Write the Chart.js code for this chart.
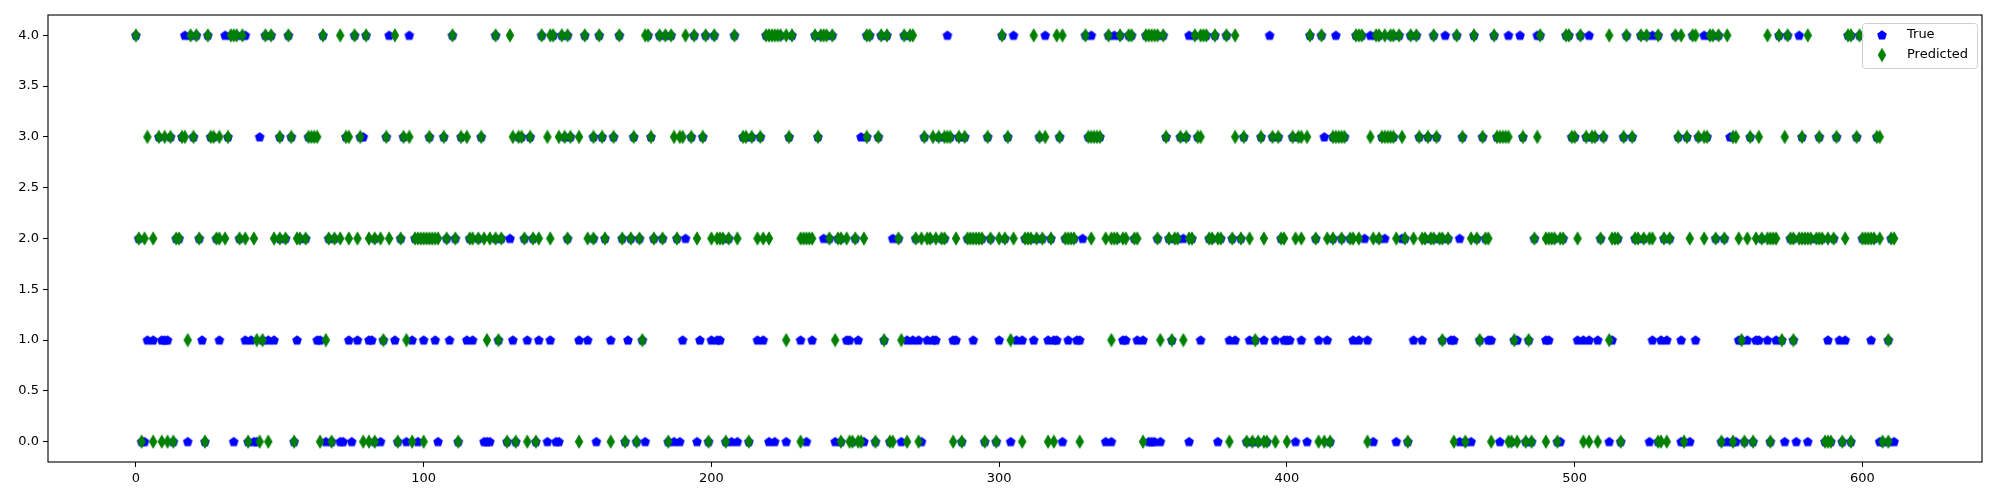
<html>
<head>
<style>
  body { margin: 0; background: #fff; }
</style>
</head>
<body>
<canvas id="myChart" width="2000" height="500"></canvas>
<script src="https://cdn.jsdelivr.net/npm/chart.js"></script>
<script>
// class labels on the y axis
const classes = [0, 1, 2, 3, 4];

// predicted class -> sample indices (green diamonds)
const pred0 = [2, 6, 9, 11, 13, 24, 39, 43, 46, 55, 64, 68, 79, 81, 83, 91, 96, 100, 112, 129, 132, 136, 139,
  154, 165, 170, 174, 185, 199, 205, 213, 231, 245, 248, 249, 251, 252, 257, 262, 263, 268, 272, 284, 287, 295, 299,
  308, 317, 319, 328, 350, 380, 386, 388, 390, 392, 393, 396, 400, 411, 413, 415, 428, 442, 458,
  462, 471, 477, 478, 480, 483, 485, 490, 494, 503, 505, 508, 516, 529, 530, 532,
  538, 551, 555, 559, 562, 568, 587, 588, 589, 593, 596, 607, 609];
const pred1 = [18, 42, 44, 66, 86, 94, 122, 126, 176, 226, 243, 260, 266, 304, 339, 356, 360, 364, 389, 454,
  467, 479, 484, 512, 558, 572, 576, 609];
const pred2 = [1, 3, 6, 14, 15, 22, 28, 29, 31, 36, 38, 41, 48, 50, 52, 56, 57, 59, 67, 69, 71, 74,
  77, 81, 83, 85, 88, 92, 97, 98, 99, 100, 101, 102, 103, 104, 105, 108, 111, 116, 117, 119, 121, 123, 125, 127,
  135, 138, 140, 144, 150, 157, 159, 163, 169, 172, 175, 180, 183, 188, 195, 200, 202, 203, 204, 206, 209, 216, 218, 220,
  231, 232, 233, 234, 235, 241, 244, 245, 247, 250, 253, 265, 271, 273, 275, 276, 278, 280, 281, 285,
  289, 290, 291, 292, 293, 294, 297, 300, 302, 305, 309, 310, 311, 313, 315, 318, 323, 324, 325, 326, 332,
  337, 339, 340, 341, 343, 344, 347, 348, 355, 359, 361, 362, 366, 367, 373, 374, 376, 377, 381,
  384, 387, 392, 398, 399, 403, 405, 410, 414, 416, 419, 422, 423, 425, 430, 432, 438, 441, 444, 447, 448, 450, 451, 453, 454, 456,
  464, 466, 469, 470, 486, 490, 491, 492, 493, 495, 496, 501, 509, 513, 514, 515, 521, 522, 524, 526, 527, 531, 533,
  540, 545, 549, 552, 557, 560, 563, 565, 567, 568, 569, 570, 575, 576, 578, 579, 580, 581, 582, 584, 585, 586, 588, 590,
  594, 600, 601, 602, 603, 604, 606, 610, 611];
const pred3 = [4, 8, 10, 12, 16, 17, 20, 26, 27, 29, 32, 50, 54, 60, 61, 62, 63, 73, 74,
  78, 87, 93, 95, 102, 107, 113, 115, 120, 131, 133, 134, 137, 143, 147, 149, 151,
  154, 159, 162, 166, 173, 179, 187, 189, 190, 193, 197, 211, 212, 214, 217, 227,
  237, 254, 258, 274, 277, 279, 281, 282, 283, 286, 288, 296, 303,
  314, 316, 321, 331, 332, 333, 334, 335, 358, 363, 365, 369, 370, 382,
  385, 391, 395, 397, 402, 404, 405, 407, 416, 417, 418, 419, 420, 429, 433, 434, 435, 436, 437, 440, 446, 449, 452,
  461, 468, 473, 474, 475, 476, 477, 482, 487, 499, 500, 504, 506, 507, 510, 517, 520, 536,
  539, 543, 545, 546, 555, 556, 561, 564, 573, 579, 585, 591, 598, 605, 606];
const pred4 = [0, 19, 21, 25, 33, 34, 35, 37, 45, 47, 53, 65, 71,
  76, 80, 90, 110, 125, 130, 141, 144, 145, 148, 150,
  156, 161, 168, 177, 178, 182, 184, 186, 191, 194, 198, 201, 208, 219, 220, 221, 222, 223, 224, 226, 228,
  236, 238, 239, 240, 242, 254, 255, 259, 261, 267, 269, 270, 301,
  312, 320, 322, 330, 338, 342, 345, 346, 351, 352, 353, 354, 355, 357, 368, 370, 371, 372, 375, 379, 382,
  408, 412, 424, 425, 426, 431, 432, 434, 436, 437, 439, 443, 445, 451, 459,
  465, 472, 488, 497, 498, 502, 512, 518, 523, 525, 529, 535, 537,
  541, 542, 547, 548, 550, 553, 567, 571, 574, 581, 595, 596, 599];

// true class -> sample indices where it differs from the prediction (blue pentagons left visible)
const miss0 = [3, 18, 34, 41, 42, 66, 71, 72, 75, 85, 94, 98, 105, 121, 122, 123, 143, 146, 147, 160, 177, 187, 189,
  195, 207, 209, 220, 222, 226, 233, 243, 253, 266, 273, 304, 322, 337, 339, 352, 353, 354, 356, 366, 376,
  403, 407, 430, 438, 460, 464, 474, 495, 512, 526, 537, 540, 553, 556, 573, 577, 581, 606, 611];
const miss1 = [4, 6, 9, 10, 11, 23, 29, 38, 40, 46, 48, 56, 63, 64, 74,
  77, 81, 82, 90, 96, 100, 104, 109, 115, 117, 131, 136, 140, 144,
  154, 157, 165, 171, 190, 196, 200, 202, 203, 216, 218,
  231, 235, 247, 248, 251, 268, 270, 272, 275, 277, 278, 284, 285, 291, 300,
  306, 308, 312, 317, 319, 320, 324, 327, 328, 343, 344, 348, 350, 370, 380, 382,
  387, 392, 396, 399, 400, 401, 405, 411, 414, 423, 425, 428, 444, 447, 457, 458,
  470, 471, 480, 490, 491, 501, 503, 505, 508, 513, 527, 530, 532, 537,
  542, 557, 560, 563, 564, 567, 570, 588, 592, 594, 603];
const miss2 = [130, 191, 239, 263, 329, 364, 427, 434, 440, 460];
const miss3 = [43, 79, 252, 413, 554];
const miss4 = [17, 31, 38, 88, 95, 282, 305, 316, 332, 340, 366, 394, 417, 429, 455, 477, 481, 487, 505, 527, 545, 578];

const xTickValues = [0, 100, 200, 300, 400, 500, 600];
const yTickValues = [0, 0.5, 1, 1.5, 2, 2.5, 3, 3.5, 4];

const predRows = [pred0, pred1, pred2, pred3, pred4];
const missRows = [miss0, miss1, miss2, miss3, miss4];

const missSet = new Set(missRows.flat());
const predPoints = [];
const truePoints = [];
classes.forEach((c) => {
  predRows[c].forEach((i) => {
    predPoints.push({x: i, y: c});
    if (!missSet.has(i)) truePoints.push({x: i, y: c});
  });
  missRows[c].forEach((i) => truePoints.push({x: i, y: c}));
});

// marker images (matplotlib 'p' and 'd')
function pentagon(color) {
  const c = document.createElement('canvas');
  c.width = 12; c.height = 12;
  const g = c.getContext('2d');
  g.beginPath();
  for (let k = 0; k < 5; k++) {
    const a = -Math.PI / 2 + k * 2 * Math.PI / 5;
    const px = 6 + 4.3 * Math.cos(a), py = 6.4 + 4.3 * Math.sin(a);
    if (k === 0) g.moveTo(px, py); else g.lineTo(px, py);
  }
  g.closePath();
  g.fillStyle = color; g.fill();
  g.lineWidth = 1.3; g.strokeStyle = color; g.stroke();
  return c;
}
function thinDiamond(color) {
  const c = document.createElement('canvas');
  c.width = 10; c.height = 15;
  const g = c.getContext('2d');
  g.beginPath();
  g.moveTo(5, 1.6); g.lineTo(8.5, 7.5); g.lineTo(5, 13.4); g.lineTo(1.5, 7.5);
  g.closePath();
  g.fillStyle = color; g.fill();
  g.lineWidth = 1.3; g.strokeStyle = color; g.stroke();
  return c;
}
const blueMark = pentagon('#0000ff');
const greenMark = thinDiamond('#008000');

Chart.defaults.font.family = 'DejaVu Sans';
Chart.defaults.font.size = 13;
Chart.defaults.color = '#000';

const framePlugin = {
  id: 'frame',
  afterDraw(chart) {
    const {ctx, chartArea: a} = chart;
    ctx.save();
    ctx.strokeStyle = '#000';
    ctx.lineWidth = 1.1;
    ctx.strokeRect(a.left, a.top, a.right - a.left, a.bottom - a.top);

    // legend box, upper right
    const bx = a.right - 120, by = a.top + 8, bw = 115, bh = 45;
    ctx.fillStyle = 'rgba(255,255,255,0.8)';
    ctx.strokeStyle = '#d0d0d0';
    ctx.lineWidth = 1;
    ctx.beginPath();
    ctx.roundRect(bx + 0.5, by + 0.5, bw, bh, 3);
    ctx.fill(); ctx.stroke();
    ctx.fillStyle = '#000';
    ctx.font = '13px "DejaVu Sans"';
    ctx.textBaseline = 'middle';
    const marks = [blueMark, greenMark];
    chart.data.datasets.slice().reverse().forEach((ds, k) => {
      const m = ds.label === 'True' ? blueMark : greenMark;
      const y = by + 12 + k * 20;
      ctx.drawImage(m, bx + 20 - m.width / 2, y - m.height / 2);
      ctx.fillText(ds.label, bx + 45, y);
    });
    ctx.restore();
  }
};

const config = {
  type: 'scatter',
  data: {
    datasets: [
      {label: 'Predicted', data: predPoints, pointStyle: greenMark, order: 1},
      {label: 'True', data: truePoints, pointStyle: blueMark, order: 2},
    ]
  },
  options: {
    responsive: false,
    animation: false,
    events: [],
    layout: {padding: {left: 0, right: 18, top: 15, bottom: 0}},
    plugins: {legend: {display: false}, tooltip: {enabled: false}},
    scales: {
      x: {
        type: 'linear',
        min: -30.55,
        max: 641.55,
        afterBuildTicks: (s) => { s.ticks = xTickValues.map((v) => ({value: v})); },
        afterFit: (s) => { s.height = 38; },
        grid: {drawOnChartArea: false, drawTicks: true, tickLength: 5, color: '#000'},
        border: {display: false},
        ticks: {padding: 4, maxRotation: 0, callback: (v) => String(v)},
      },
      y: {
        type: 'linear',
        min: -0.2,
        max: 4.2,
        afterBuildTicks: (s) => { s.ticks = yTickValues.map((v) => ({value: v})); },
        afterFit: (s) => { s.width = 48; },
        grid: {drawOnChartArea: false, drawTicks: true, tickLength: 5, color: '#000'},
        border: {display: false},
        ticks: {padding: 4, callback: (v) => Number(v).toFixed(1)},
      }
    }
  },
  plugins: [framePlugin]
};

const myChart = new Chart(document.getElementById('myChart'), config);
</script>
</body>
</html>
